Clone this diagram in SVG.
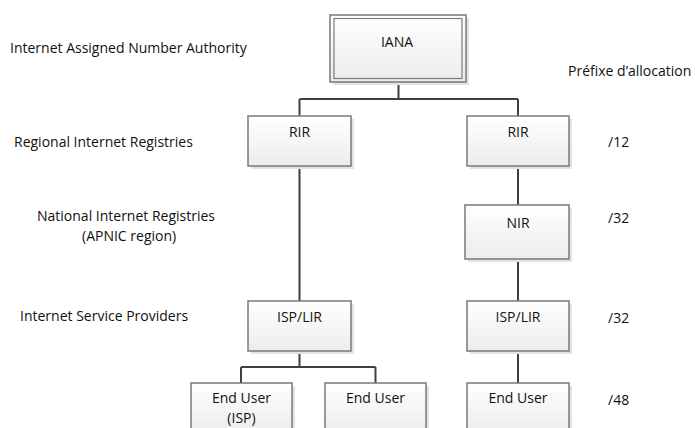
<svg xmlns="http://www.w3.org/2000/svg" width="695" height="428" viewBox="0 0 695 428">
<defs>
<linearGradient id="g" x1="0" y1="0" x2="0" y2="1">
<stop offset="0" stop-color="#ffffff"/>
<stop offset="1" stop-color="#ececec"/>
</linearGradient>
</defs>
<style>
text{font-family:"Open Sans","Liberation Sans",sans-serif;font-size:14px;fill:#111}
.c{text-anchor:middle}
.box{fill:url(#g);stroke:#7a7a7a;stroke-width:1.5}
.sh{fill:#e3e3e3}
.ln{stroke:#404040;stroke-width:2;fill:none}
</style>
<rect width="695" height="428" fill="#fff"/>
<g id="labels">
<text x="10" y="53">Internet Assigned Number Authority</text>
<text x="14" y="147">Regional Internet Registries</text>
<text x="37" y="221">National Internet Registries</text>
<text x="82" y="241">(APNIC region)</text>
<text x="20" y="321">Internet Service Providers</text>
<text x="568" y="76">Préfixe d’allocation</text>
<text x="608" y="147">/12</text>
<text x="608" y="223">/32</text>
<text x="608" y="323">/32</text>
<text x="608" y="405">/48</text>
</g>
<g id="connectors">
<path class="ln" d="M398.5 82V99M299.5 99H518M299.5 99V116M518 99V116"/>
<path class="ln" d="M299.5 166V301M518 166V205M518 259V301M518 351V383"/>
<path class="ln" d="M299.5 351V367M241 367H375.5M241 367V383M375.5 367V383"/>
</g>
<g id="iana">
<rect class="sh" x="333" y="18" width="136" height="67"/>
<rect class="box" x="330" y="15" width="136" height="67"/>
<rect fill="none" stroke="#7a7a7a" stroke-width="1.2" x="334" y="18.5" width="128" height="60"/>
<text class="c" x="397" y="47">IANA</text>
</g>
<g id="rir1">
<rect class="sh" x="251" y="119" width="103" height="50"/>
<rect class="box" x="248" y="116" width="103" height="50"/>
<text class="c" x="299.5" y="137">RIR</text>
</g>
<g id="rir2">
<rect class="sh" x="470" y="119" width="102" height="50"/>
<rect class="box" x="467" y="116" width="102" height="50"/>
<text class="c" x="518" y="137">RIR</text>
</g>
<g id="nir">
<rect class="sh" x="468" y="208" width="104" height="54"/>
<rect class="box" x="465" y="205" width="104" height="54"/>
<text class="c" x="518" y="228">NIR</text>
</g>
<g id="isp1">
<rect class="sh" x="251" y="304" width="103" height="50"/>
<rect class="box" x="248" y="301" width="103" height="50"/>
<text class="c" x="299.5" y="322">ISP/LIR</text>
</g>
<g id="isp2">
<rect class="sh" x="470" y="304" width="102" height="50"/>
<rect class="box" x="467" y="301" width="102" height="50"/>
<text class="c" x="518" y="322">ISP/LIR</text>
</g>
<g id="eu1">
<rect class="sh" x="194" y="386" width="101" height="50"/>
<rect class="box" x="191" y="383" width="101" height="50"/>
<text class="c" x="241.5" y="403">End User</text>
<text class="c" x="241.5" y="423">(ISP)</text>
</g>
<g id="eu2">
<rect class="sh" x="328" y="386" width="101" height="50"/>
<rect class="box" x="325" y="383" width="101" height="50"/>
<text class="c" x="375.5" y="403">End User</text>
</g>
<g id="eu3">
<rect class="sh" x="470" y="386" width="102" height="50"/>
<rect class="box" x="467" y="383" width="102" height="50"/>
<text class="c" x="518" y="403">End User</text>
</g>
</svg>
